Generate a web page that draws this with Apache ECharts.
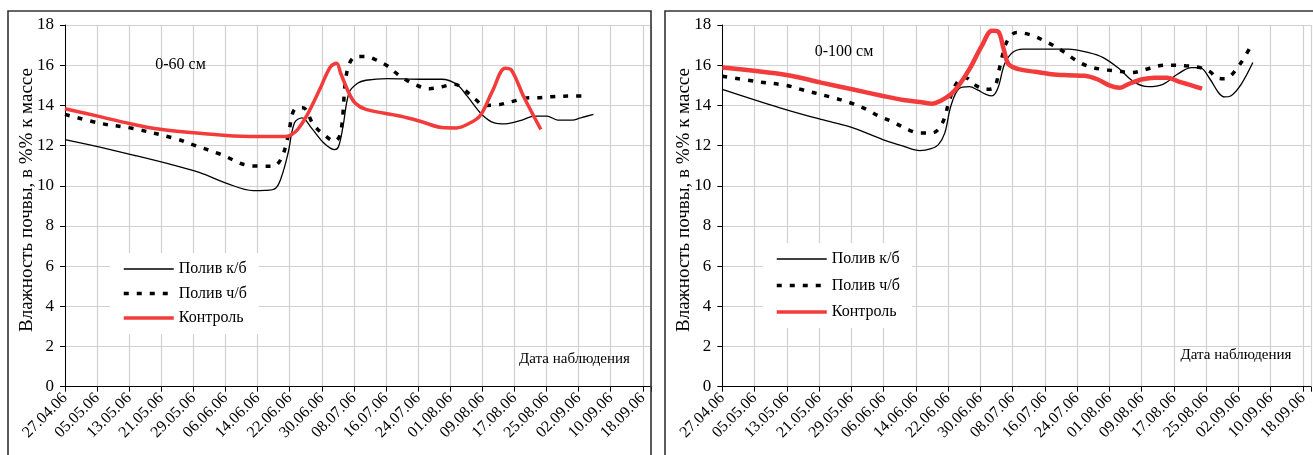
<!DOCTYPE html>
<html>
<head>
<meta charset="utf-8">
<script src="https://cdn.jsdelivr.net/npm/echarts@6/dist/echarts.min.js"></script>
<style>
html,body{margin:0;padding:0;background:#fff;}
#c{width:1313px;height:455px;}
</style>
</head>
<body>
<div id="c"></div>
<script>
// Tick labels (every 8 days from 27.04.06), x values are days since 27.04.06
const tickLabels = ['27.04.06','05.05.06','13.05.06','21.05.06','29.05.06','06.06.06','14.06.06','22.06.06','30.06.06','08.07.06','16.07.06','24.07.06','01.08.06','09.08.06','17.08.06','25.08.06','02.09.06','10.09.06','18.09.06'];
const seriesNames = ['Полив к/б','Полив ч/б','Контроль'];

// ---- 0-60 см ----
const kb60Days = [0,8.7,17,27,33.6,40.3,46.9,49.8,52.5,54,55.6,57.2,59.1,61.4,64.5,67.2,68.2,69.3,70.8,72.9,75,80.3,88.7,93.9,97.6,100.2,103.9,107,109.7,113.9,117,120.1,122.8,126.4,128.5,131.7];
const kb60Vals = [12.3,11.92,11.53,11.03,10.65,10.12,9.76,9.77,9.88,10.47,11.63,13.13,13.38,12.88,12.13,11.8,11.97,12.97,14.63,15.1,15.25,15.33,15.3,15.3,15.05,14.47,13.55,13.13,13.08,13.27,13.47,13.47,13.27,13.27,13.38,13.55];
const cb60Days = [0,8.7,16.7,27.8,32,38.6,46.5,51.9,54,55.6,57.2,59.3,61.9,64.5,67.2,68.7,70.3,72.4,75,77.1,80.3,83.4,87.1,90.8,93.9,97.1,99.2,102.3,104.4,108,111.6,115.7,117.8,121.2,126.4,129.1];
const cb60Vals = [13.55,13.11,12.86,12.33,12.03,11.58,10.99,10.97,11.4,12.47,13.8,13.88,13.05,12.55,12.22,12.63,15.72,16.42,16.43,16.3,15.97,15.47,15.05,14.83,14.93,15.05,14.83,14.3,14.0,14.03,14.2,14.38,14.38,14.43,14.47,14.47];
const ctrl60Days = [0,8.7,16,23.7,33.6,46,55.1,56.5,58,60.3,63.5,66.1,67.7,68.7,70.8,72.4,75,83.4,88.7,93.9,97.6,100.2,103.4,106.5,109.7,111.3,114.4,118.6];
const ctrl60Vals = [13.83,13.44,13.1,12.81,12.61,12.45,12.45,12.55,12.8,13.5,14.8,15.9,16.1,15.6,14.6,14.1,13.8,13.47,13.2,12.9,12.88,13.05,13.47,14.7,15.85,15.75,14.4,12.8];

// ---- 0-100 см ----
const kb100Days = [0,14.3,24.5,31.7,39.8,44.9,49,51.6,53.6,55.2,56.7,58.7,61.3,63.3,65.4,66.9,68.4,70,72,74.6,80.7,85.8,90.9,94.5,98.1,102.1,105.7,109.3,112.9,116.4,118.5,121,123.1,124.6,126.1,128.7,131.6];
const kb100Vals = [14.8,13.88,13.3,12.93,12.3,11.97,11.75,11.83,12.05,12.63,13.97,14.83,14.93,14.77,14.55,14.47,14.88,16.05,16.63,16.8,16.8,16.8,16.63,16.38,15.88,15.17,14.93,15.05,15.55,15.88,15.88,15.3,14.63,14.42,14.47,15.05,16.13];
const cb100Days = [0,8.7,15.8,19.4,26.6,31.7,35.8,38.8,42.4,46,49,52.1,54.6,56.4,58.2,60.3,62.8,65.4,67.4,68.9,70.5,73,76.6,80.7,84.3,87.3,90.4,93.9,97.5,101.6,105.2,108.3,111.3,114.9,118.5,121,122.6,124.6,126.1,128.7,130.7];
const cb100Vals = [15.45,15.18,15.0,14.8,14.43,14.13,13.8,13.47,13.17,12.8,12.63,12.63,13.13,14.3,15.13,15.38,15.0,14.8,14.88,15.97,17.13,17.63,17.5,17.13,16.72,16.3,15.97,15.8,15.72,15.63,15.8,15.97,16.0,15.97,15.88,15.67,15.38,15.33,15.47,16.13,16.8];
const ctrl100Days = [0,16.3,24.5,32.2,39.8,44.9,49,52.1,54.1,56.7,58.7,61.3,64.4,66.9,68.4,69.8,71,73.5,77.6,81.7,85.8,89.9,93,96,98.6,100.6,104.2,107.3,110.4,113.4,116.4,119];
const ctrl100Vals = [15.88,15.5,15.13,14.8,14.47,14.27,14.17,14.08,14.22,14.55,15.0,15.8,16.97,17.72,17.68,16.8,16.05,15.8,15.67,15.55,15.5,15.47,15.3,15.0,14.88,15.05,15.3,15.38,15.38,15.17,15.0,14.83];

const FONT = '"Liberation Serif","Times New Roman",serif';
const zip = (d, v) => d.map((x, i) => [x, v[i]]);

function xAxis(gi) {
  return {
    type: 'value', gridIndex: gi, min: 0, max: 146, interval: 8,
    axisLine: {show: true, lineStyle: {color: '#000', width: 1}},
    axisTick: {show: true, length: 5, inside: false, lineStyle: {color: '#000'}},
    axisLabel: {
      rotate: 45, margin: 9, fontFamily: FONT, fontSize: 16, color: '#000',
      formatter: v => (v % 8 === 0 && tickLabels[v / 8]) ? tickLabels[v / 8] : ''
    },
    splitLine: {show: true, lineStyle: {color: '#d0d0d0', width: 1.2}}
  };
}
function yAxis(gi) {
  return {
    type: 'value', gridIndex: gi, min: 0, max: 18, interval: 2,
    axisLine: {show: true, onZero: false, lineStyle: {color: '#000', width: 1}},
    axisTick: {show: true, length: 5, lineStyle: {color: '#000'}},
    axisLabel: {margin: 11, fontFamily: FONT, fontSize: 17, color: '#000'},
    splitLine: {show: true, lineStyle: {color: '#d0d0d0', width: 1.2}}
  };
}
function lines(gi, kb, cb, ctrl, redW) {
  const common = {type: 'line', xAxisIndex: gi, yAxisIndex: gi, symbol: 'none', smooth: 0.35, animation: false};
  return [
    Object.assign({}, common, {name: seriesNames[0], data: kb, lineStyle: {color: '#000', width: 1.3}, itemStyle: {color: '#000'}, z: 3}),
    Object.assign({}, common, {name: seriesNames[1], data: cb, lineStyle: {color: '#000', width: 3.5, type: [5, 8]}, itemStyle: {color: '#000'}, z: 2}),
    Object.assign({}, common, {name: seriesNames[2], data: ctrl, lineStyle: {color: '#f23b3b', width: redW}, itemStyle: {color: '#f23b3b'}, z: 4})
  ];
}
function legend(left, top, gap) {
  return {
    orient: 'vertical', left: left, top: top, itemWidth: 50, itemHeight: 14, itemGap: gap, itemTextGap: 4,
    icon: 'inherit',
    itemStyle: {opacity: 0},
    lineStyle: {width: 'inherit', type: 'inherit'},
    padding: [8, 12, 8, 12], backgroundColor: '#fff', selectedMode: false,
    textStyle: {fontFamily: FONT, fontSize: 16, color: '#000', lineHeight: 16},
    data: seriesNames
  };
}
function txt(x, y, text, size, rot) {
  return {type: 'text', x: x, y: y, rotation: rot || 0, z: 100,
    style: {text: text, fontFamily: FONT, fontSize: size, fill: '#000', align: 'center', verticalAlign: 'middle'}};
}

const chart = echarts.init(document.getElementById('c'), null, {renderer: 'canvas'});
chart.setOption({
  backgroundColor: '#fff',
  animation: false,
  grid: [
    {left: 65, top: 25, width: 585.8, height: 361.7},
    {left: 722.3, top: 25, width: 600.5, height: 361.7}
  ],
  xAxis: [xAxis(0), xAxis(1)],
  yAxis: [yAxis(0), yAxis(1)],
  legend: [legend(110, 253, 8.5), legend(763, 243, 10.5)],
  series: [].concat(
    lines(0, zip(kb60Days, kb60Vals), zip(cb60Days, cb60Vals), zip(ctrl60Days, ctrl60Vals), 3.5),
    lines(1, zip(kb100Days, kb100Vals), zip(cb100Days, cb100Vals), zip(ctrl100Days, ctrl100Vals), 4.5)
  ),
  graphic: [
    {type: 'rect', shape: {x: 8, y: 11, width: 643, height: 470}, z: 100, silent: true,
      style: {fill: 'none', stroke: '#333', lineWidth: 1.6}},
    {type: 'rect', shape: {x: 665, y: 11, width: 700, height: 470}, z: 100, silent: true,
      style: {fill: 'none', stroke: '#333', lineWidth: 1.6}},
    txt(27, 200, 'Влажность почвы, в %% к массе', 19, Math.PI / 2),
    txt(684, 200, 'Влажность почвы, в %% к массе', 19, Math.PI / 2),
    txt(180.5, 65, '0-60 см', 16),
    txt(844, 52, '0-100 см', 16),
    txt(574.5, 359, 'Дата наблюдения', 15),
    txt(1236, 355, 'Дата наблюдения', 15)
  ]
});
</script>
</body>
</html>
